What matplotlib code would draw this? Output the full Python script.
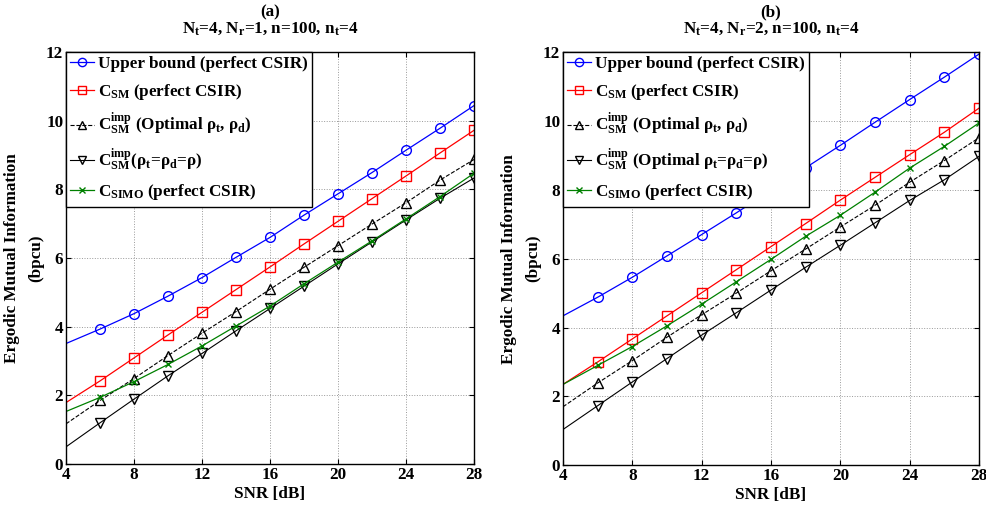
import numpy as np
import matplotlib
matplotlib.use('Agg')
import matplotlib.pyplot as plt

plt.rcParams['font.family'] = 'Liberation Serif'
plt.rcParams['font.weight'] = 'bold'
plt.rcParams['mathtext.fontset'] = 'custom'
plt.rcParams['mathtext.rm'] = 'Liberation Serif:bold'
plt.rcParams['mathtext.it'] = 'Liberation Serif:bold'
plt.rcParams['mathtext.bf'] = 'Liberation Serif:bold'
plt.rcParams['mathtext.default'] = 'rm'

# SNR axis (dB)
snr = [4, 6, 8, 10, 12, 14, 16, 18, 20, 22, 24, 26, 28]

# panel (a): Nt=4, Nr=1
a_upper = [3.51, 3.93, 4.38, 4.89, 5.43, 6.02, 6.60, 7.25, 7.87, 8.49, 9.14, 9.78, 10.44]
a_csm = [1.79, 2.42, 3.09, 3.76, 4.42, 5.08, 5.74, 6.41, 7.07, 7.73, 8.39, 9.06, 9.72]
a_imp_opt = [1.17, 1.85, 2.49, 3.16, 3.81, 4.44, 5.09, 5.73, 6.36, 6.99, 7.61, 8.27, 8.87]
a_imp_eq = [0.50, 1.20, 1.89, 2.57, 3.22, 3.88, 4.53, 5.18, 5.83, 6.47, 7.11, 7.74, 8.33]
a_simo = [1.53, 1.94, 2.40, 2.90, 3.44, 4.02, 4.60, 5.25, 5.88, 6.50, 7.14, 7.79, 8.47]

# panel (b): Nt=4, Nr=2
b_upper = [4.34, 4.88, 5.46, 6.08, 6.70, 7.33, 7.98, 8.64, 9.29, 9.96, 10.62, 11.27, 11.94]
b_csm = [2.35, 3.00, 3.67, 4.34, 5.01, 5.68, 6.35, 7.02, 7.70, 8.36, 9.02, 9.67, 10.37]
b_imp_opt = [1.70, 2.39, 3.04, 3.72, 4.37, 5.00, 5.65, 6.28, 6.92, 7.55, 8.22, 8.85, 9.51]
b_imp_eq = [1.04, 1.73, 2.42, 3.10, 3.78, 4.43, 5.09, 5.75, 6.39, 7.04, 7.69, 8.29, 8.97]
b_simo = [2.35, 2.90, 3.45, 4.05, 4.68, 5.33, 5.98, 6.65, 7.26, 7.93, 8.63, 9.26, 9.94]

titles = ['(a)\n$N_t$=4, $N_r$=1, n=100, $n_t$=4',
          '(b)\n$N_t$=4, $N_r$=2, n=100, $n_t$=4']
labels_common = ['Upper bound (perfect CSIR)',
                 '$C_{SM}$ (perfect CSIR)',
                 r'$C_{SM}^{imp}$ (Optimal $\rho_t$, $\rho_d$)']
label_eq = [r'$C_{SM}^{imp}$($\rho_t$=$\rho_d$=$\rho$)',
            r'$C_{SM}^{imp}$ (Optimal $\rho_t$=$\rho_d$=$\rho$)']
label_simo = '$C_{SIMO}$ (perfect CSIR)'

fs = 12.3

fig = plt.figure(figsize=(9.87, 5.08), dpi=100)
ax_a = fig.add_axes([0.0669, 0.0866, 0.4134, 0.811])
ax_b = fig.add_axes([0.5704, 0.0840, 0.4215, 0.8136])

panels = [(ax_a, a_upper, a_csm, a_imp_opt, a_imp_eq, a_simo),
          (ax_b, b_upper, b_csm, b_imp_opt, b_imp_eq, b_simo)]

for i, (ax, up, csm, opt, eq, simo) in enumerate(panels):
    me = slice(1, None)
    ax.plot(snr, up, '-', color='blue', marker='o', mfc='none', ms=7, lw=0.9,
            markevery=me, label=labels_common[0])
    ax.plot(snr, csm, '-', color='red', marker='s', mfc='none', ms=6.5, lw=0.9,
            markevery=me, label=labels_common[1])
    ax.plot(snr, opt, '--', color='black', marker='^', mfc='none', ms=7.5, lw=0.8,
            markevery=me, label=labels_common[2])
    ax.plot(snr, eq, '-', color='black', marker='v', mfc='none', ms=7.5, lw=0.8,
            markevery=me, label=label_eq[i])
    ax.plot(snr, simo, '-', color='green', marker='x', ms=5, lw=0.9,
            markevery=me, label=label_simo)

    ax.set_xlim(4, 28)
    ax.set_ylim(0, 12)
    ax.set_xticks(range(4, 29, 4))
    ax.set_yticks(range(0, 13, 2))
    ax.tick_params(direction='in', labelsize=fs, top=True, right=True, width=0.8, pad=2)
    ax.grid(True, linestyle=':', color='#999999', lw=0.7)
    for sp in ax.spines.values():
        sp.set_linewidth(1.0)
    ax.set_xlabel('SNR [dB]', fontsize=fs, fontweight='bold', labelpad=2)
    ax.set_ylabel('Ergodic Mutual Information\n(bpcu)', fontsize=fs,
                  fontweight='bold', labelpad=1, linespacing=1.75)
    ax.set_title(titles[i], fontsize=fs, fontweight='bold', pad=14, linespacing=0.95)
    leg = ax.legend(loc='upper left', fontsize=fs, fancybox=False, framealpha=1,
                    edgecolor='black', borderaxespad=0, handlelength=1.4,
                    handletextpad=0.2, labelspacing=0.55, borderpad=0.25,
                    markerscale=0.85)
    leg.get_frame().set_linewidth(1.0)

fig.savefig('out.png', dpi=100)
